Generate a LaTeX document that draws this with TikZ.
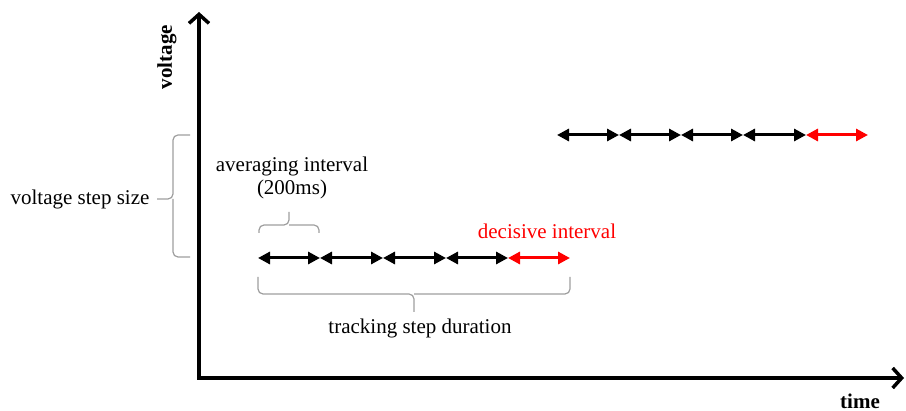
\documentclass[tikz,border=0pt]{standalone}
\usepackage{fontspec}
\setmainfont{Liberation Serif}
\usetikzlibrary{arrows.meta}
\begin{document}
\begin{tikzpicture}[x=1pt,y=-1pt,
  axisline/.style={line width=3.5pt,line join=miter,
    {Straight Barb[length=9pt,width=20pt]}-{Straight Barb[length=9pt,width=20pt]}},
  seg/.style={line width=3pt,{Triangle[length=12pt,width=12pt]}-{Triangle[length=12pt,width=12pt]}},
  decseg/.style={seg,draw=red,fill=red},
  bracesty/.style={draw=black!38,line width=1.2pt,rounded corners=5pt},
  lbl/.style={font=\fontsize{21}{23}\selectfont,inner sep=0pt},
  blbl/.style={font=\fontsize{21}{23}\selectfont\bfseries,inner sep=0pt},
]
\useasboundingbox (0,0) rectangle (906,411);

% axes
\coordinate (O) at (199,378);
\coordinate (ytop) at (199,12);
\coordinate (xend) at (904,378);
\draw[axisline] (ytop) -- (O) -- (xend);

\node[blbl,rotate=90] (vlab) at (167,57) {voltage};
\node[blbl] (tlab) at (860,401) {time};

% lower intervals
\foreach \i/\x in {0/258,1/320,2/383,3/446,4/508,5/570}
  \coordinate (a\i) at (\x,258);
\foreach \i/\j in {0/1,1/2,2/3,3/4}
  \draw[seg] (a\i) -- (a\j);
\draw[decseg] (a4) -- (a5);

% upper intervals
\foreach \i/\x in {0/557,1/619,2/681,3/743,4/806,5/868}
  \coordinate (b\i) at (\x,135);
\foreach \i/\j in {0/1,1/2,2/3,3/4}
  \draw[seg] (b\i) -- (b\j);
\draw[decseg] (b4) -- (b5);

% voltage step brace
\coordinate (vs1) at (190,135);
\coordinate (vs2) at (190,257);
\coordinate (vsm) at (173,199);
\coordinate (vst) at (157,199);
\draw[bracesty] (vs1) -| (vsm) -- (vst);
\draw[bracesty] (vs2) -| (vsm);
\node[lbl] (vstext) at (80,199) {voltage step size};

% averaging brace
\coordinate (av1) at (259,233);
\coordinate (av2) at (319,233);
\coordinate (avm) at (289,225);
\coordinate (avt) at (289,212);
\draw[bracesty] (av1) |- (avm) -- (avt);
\draw[bracesty] (av2) |- (avm);
\node[lbl,align=center] (avtext) at (292,178) {averaging interval\\(200ms)};

% tracking brace
\coordinate (tr1) at (258,277);
\coordinate (tr2) at (570,277);
\coordinate (trm) at (414,294);
\coordinate (trt) at (414,312);
\draw[bracesty] (tr1) |- (trm) -- (trt);
\draw[bracesty] (tr2) |- (trm);
\node[lbl] (trtext) at (420,328) {tracking step duration};

\node[lbl,text=red] (dectext) at (547,231) {decisive interval};
\end{tikzpicture}
\end{document}
